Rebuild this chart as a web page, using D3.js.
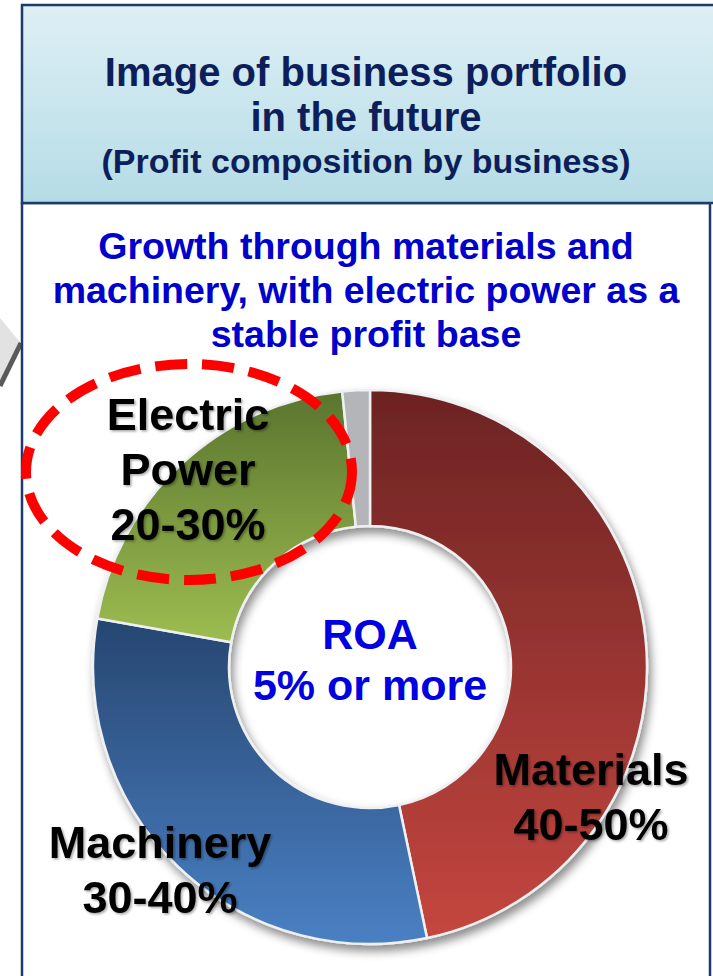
<!DOCTYPE html>
<html>
<head>
<meta charset="utf-8">
<script src="https://cdn.jsdelivr.net/npm/d3@7"></script>
<style>
  body { margin: 0; background: #fff; }
  svg { display: block; font-family: "Liberation Sans", Arial, sans-serif; font-weight: bold; }
</style>
</head>
<body>
<div id="chart"></div>
<script>
// chart values
const segments = ["Materials", "Machinery", "Electric Power", "Other"];
const shares = [46.7, 31.1, 20.6, 1.6];
const segmentLabels = [["Materials", "40-50%"], ["Machinery", "30-40%"], ["Electric", "Power", "20-30%"], []];
const titleLines = ["Image of business portfolio", "in the future"];
const titleSub = "(Profit composition by business)";
const messageLines = ["Growth through materials and", "machinery, with electric power as a", "stable profit base"];
const centreLines = ["ROA", "5% or more"];

function main() {
    const width = 713;
    const height = 976;
    const centre = { x: 370, y: 667 };
    const outerR = 277;
    const innerR = 141;

    const svg = d3.select("#chart").append("svg")
        .attr("width", width)
        .attr("height", height);

    const defs = svg.append("defs");

    // header gradient
    const hg = defs.append("linearGradient").attr("id", "hdr")
        .attr("x1", 0).attr("y1", 0).attr("x2", 0).attr("y2", 1);
    hg.append("stop").attr("offset", 0).attr("stop-color", "#deeff5");
    hg.append("stop").attr("offset", 1).attr("stop-color", "#b5dce6");

    // slice gradients, dark at top, light at bottom
    const sliceColours = [["#6c2323", "#c5463f"], ["#264670", "#4a80c4"], ["#5a742e", "#9dbd51"], ["#b3b5b9", "#b3b5b9"]];
    sliceColours.forEach((c, i) => {
        const g = defs.append("linearGradient").attr("id", "slice" + i)
            .attr("x1", 0).attr("y1", 0).attr("x2", 0).attr("y2", 1);
        g.append("stop").attr("offset", 0).attr("stop-color", c[0]);
        g.append("stop").attr("offset", 1).attr("stop-color", c[1]);
    });

    const shadow = defs.append("filter").attr("id", "shadow")
        .attr("x", "-20%").attr("y", "-20%").attr("width", "140%").attr("height", "140%");
    shadow.append("feDropShadow").attr("dx", 3).attr("dy", 6)
        .attr("stdDeviation", 5).attr("flood-color", "#000").attr("flood-opacity", 0.45);

    const textShadow = defs.append("filter").attr("id", "tshadow");
    textShadow.append("feDropShadow").attr("dx", 1.5).attr("dy", 1.5)
        .attr("stdDeviation", 1).attr("flood-color", "#000").attr("flood-opacity", 0.35);

    // decoration from the neighbouring shape on the left
    svg.append("path")
        .attr("d", "M0,318 L20,342 L0,384 Z")
        .attr("fill", "#e2e2e2");
    svg.append("line")
        .attr("x1", 21).attr("y1", 343).attr("x2", 0).attr("y2", 386)
        .attr("stroke", "#5a5a5a").attr("stroke-width", 5);

    // boxes
    svg.append("rect")
        .attr("x", 22).attr("y", 203).attr("width", 688).attr("height", 800)
        .attr("fill", "#fff").attr("stroke", "#1d3a6c").attr("stroke-width", 2.5);
    svg.append("rect")
        .attr("x", 22).attr("y", 5).attr("width", 720).attr("height", 198)
        .attr("fill", "url(#hdr)").attr("stroke", "#1d3a6c").attr("stroke-width", 2.5);

    const midX = 366;

    svg.selectAll(".title")
        .data(titleLines)
        .enter().append("text")
        .attr("class", "title")
        .attr("x", midX)
        .attr("y", (d, i) => 86 + i * 45)
        .attr("text-anchor", "middle")
        .style("font-size", "40px")
        .style("fill", "#0c1f5a")
        .text(d => d);

    svg.append("text")
        .attr("x", midX).attr("y", 173)
        .attr("text-anchor", "middle")
        .style("font-size", "34px")
        .style("fill", "#0c1f5a")
        .text(titleSub);

    svg.selectAll(".message")
        .data(messageLines)
        .enter().append("text")
        .attr("class", "message")
        .attr("x", midX)
        .attr("y", (d, i) => 259 + i * 44)
        .attr("text-anchor", "middle")
        .style("font-size", "37.5px")
        .style("fill", "#0000cc")
        .text(d => d);

    // donut
    const pie = d3.pie().sort(null).value(d => d);
    const arc = d3.arc().innerRadius(innerR).outerRadius(outerR);
    const arcs = pie(shares);

    const donut = svg.append("g")
        .attr("transform", "translate(" + centre.x + "," + centre.y + ")")
        .attr("filter", "url(#shadow)");

    donut.selectAll("path")
        .data(arcs)
        .enter().append("path")
        .attr("d", arc)
        .attr("fill", (d, i) => "url(#slice" + i + ")")
        .attr("stroke", "#eef0f2")
        .attr("stroke-width", 2.5);

    // centre text
    svg.selectAll(".centre")
        .data(centreLines)
        .enter().append("text")
        .attr("class", "centre")
        .attr("x", centre.x)
        .attr("y", (d, i) => 649 + i * 51)
        .attr("text-anchor", "middle")
        .style("font-size", "43px")
        .style("fill", "#0000e0")
        .text(d => d);

    // dashed highlight round electric power
    svg.append("ellipse")
        .attr("cx", 189).attr("cy", 472)
        .attr("rx", 163).attr("ry", 108)
        .attr("fill", "none")
        .attr("stroke", "#ff0000")
        .attr("stroke-width", 10)
        .attr("stroke-dasharray", "32 15");

    // segment labels
    const labelPos = [{ x: 591, y: 785 }, { x: 160, y: 858 }, { x: 188, y: 430 }];
    labelPos.forEach((p, i) => {
        svg.append("g").attr("filter", "url(#tshadow)")
            .selectAll("text")
            .data(segmentLabels[i])
            .enter().append("text")
            .attr("x", p.x)
            .attr("y", (d, j) => p.y + j * 55)
            .attr("text-anchor", "middle")
            .style("font-size", "45px")
            .style("fill", "#000")
            .text(d => d);
    });
}

main();
</script>
</body>
</html>
